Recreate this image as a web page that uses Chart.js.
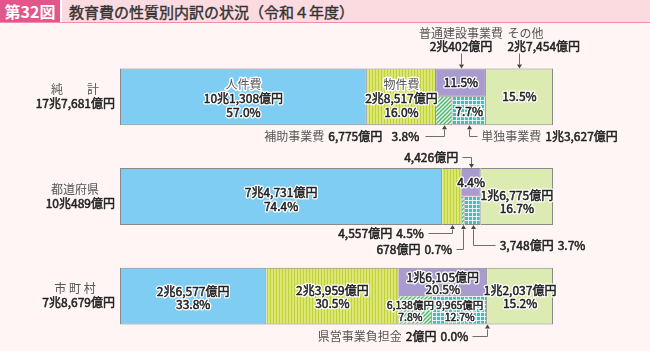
<!DOCTYPE html>
<html lang="ja">
<head>
<meta charset="utf-8">
<script src="https://cdn.jsdelivr.net/npm/chart.js@4.4.1/dist/chart.umd.min.js"></script>
<style>
  body { margin: 0; background: #fff5f5; font-family: "Noto Sans CJK JP", sans-serif; }
  #wrap { position: relative; width: 650px; height: 351px; overflow: hidden; }
  #title { position: absolute; left: 0; top: 0; width: 650px; height: 22px; background: #fbdbe0;
           border-bottom: 1px solid #ef8fac; display: flex; align-items: center; z-index: 2; }
  #title .num { background: #e4558b; color: #fff; font-weight: bold; font-size: 16px; width: 60px;
                height: 22px; line-height: 22px; text-align: center; margin-right: 7px; border-right: 2px solid #fff; }
  #title .text { font-size: 15px; color: #333; -webkit-text-stroke: 0.4px #333; }
  canvas { position: absolute; left: 0; top: 0; }
</style>
</head>
<body>
<div id="wrap">
  <div id="title"><span class="num">第32図</span><span class="text">教育費の性質別内訳の状況（令和４年度）</span></div>
  <canvas id="costChart" width="650" height="351"></canvas>
</div>
<script>
// rows (純計 / 都道府県 / 市町村)
const rowNames = ['純　　計', '都道府県', '市 町 村'];
const rowTotals = ['17兆7,681億円', '10兆489億円', '7兆8,679億円'];

// shares in %, amounts as printed
const personnelPct = [57.0, 74.4, 33.8];
const personnelAmt = ['10兆1,308億円', '7兆4,731億円', '2兆6,577億円'];
const goodsPct = [16.0, 4.5, 30.5];
const goodsAmt = ['2兆8,517億円', '4,557億円', '2兆3,959億円'];
const constructionPct = [11.5, 4.4, 20.5];
const constructionAmt = ['2兆402億円', '4,426億円', '1兆6,105億円'];
const subsidizedPct = [3.8, 0.7, 7.8];
const subsidizedAmt = ['6,775億円', '678億円', '6,138億円'];
const independentPct = [7.7, 3.7, 12.7];
const independentAmt = ['1兆3,627億円', '3,748億円', '9,965億円'];
const prefProjectPct = [null, null, 0.0];
const prefProjectAmt = [null, null, '2億円'];
const otherPct = [15.5, 16.7, 15.2];
const otherAmt = ['2兆7,454億円', '1兆6,775億円', '1兆2,037億円'];

const FONT = '"Noto Sans CJK JP", "Noto Sans", sans-serif';
const MUTED = '#555';
const DARK = '#222';
const LINE = '#6e6e6e';

// floating bar ranges built from the shares
const afterGoods = personnelPct.map((p, i) => p + goodsPct[i]);
const afterConstruction = afterGoods.map((v, i) => v + constructionPct[i]);

const personnelBars = personnelPct.map(p => [0, p]);
const goodsBars = goodsPct.map((g, i) => [personnelPct[i], afterGoods[i]]);
const constructionBars = constructionPct.map((c, i) => [afterGoods[i], afterConstruction[i]]);
const subsidizedBars = subsidizedPct.map((s, i) => [afterGoods[i], afterGoods[i] + s]);
const independentBars = independentPct.map((v, i) => [afterGoods[i] + subsidizedPct[i], afterGoods[i] + subsidizedPct[i] + v]);
const prefBars = prefProjectPct.map((v, i) => v === null ? null : [afterConstruction[i], afterConstruction[i] + v]);
const otherBars = otherPct.map((o, i) => [afterConstruction[i], afterConstruction[i] + o]);

function makePattern(size, paint) {
    const c = document.createElement('canvas');
    c.width = size;
    c.height = size;
    const g = c.getContext('2d');
    paint(g, size);
    return g.createPattern(c, 'repeat');
}

const stripePattern = makePattern(3, (g, s) => {
    g.fillStyle = '#dbe673';
    g.fillRect(0, 0, s, s);
    g.fillStyle = '#bfd23c';
    g.fillRect(0, 0, 1, s);
});

const hatchPattern = makePattern(4, (g, s) => {
    g.fillStyle = '#e6f4e2';
    g.fillRect(0, 0, s, s);
    g.strokeStyle = '#4db574';
    g.lineWidth = 1.3;
    g.beginPath();
    g.moveTo(-1, s + 1); g.lineTo(s + 1, -1);
    g.moveTo(-1, 1); g.lineTo(1, -1);
    g.moveTo(s - 1, s + 1); g.lineTo(s + 1, s - 1);
    g.stroke();
});

const checkPattern = makePattern(4, (g, s) => {
    g.fillStyle = '#46beb8';
    g.fillRect(0, 0, s, s);
    g.fillStyle = 'rgba(255,255,255,0.8)';
    g.fillRect(0, 0, s, 1);
    g.fillRect(0, 0, 1, s);
});

const edge = (left, top, bottom) => ({ left: left, top: top, bottom: bottom, right: 1 });

function fullBar(label, data, color, border) {
    return { label, data, backgroundColor: color, borderColor: '#8a8a8a', borderWidth: border,
             borderSkipped: false, grouped: false };
}
function halfBar(label, data, color, stack, border) {
    return { label, data, backgroundColor: color, borderColor: '#8a8a8a', borderWidth: border,
             borderSkipped: false, stack };
}

// dark text gets a hairline stroke so it reads a bit heavier, like the print
function write(ctx, text, x, y, color) {
    ctx.fillStyle = color;
    ctx.fillText(text, x, y);
    if (color === DARK) {
        ctx.lineWidth = 0.5;
        ctx.strokeStyle = color;
        ctx.strokeText(text, x, y);
    }
}

function halo(ctx, text, x, y, color) {
    ctx.lineWidth = 3;
    ctx.lineJoin = 'round';
    ctx.strokeStyle = '#fff';
    ctx.strokeText(text, x, y);
    write(ctx, text, x, y, color);
}

function geom(chart, ds, row) {
    const el = chart.getDatasetMeta(ds).data[row];
    const p = el.getProps(['x', 'base', 'y', 'height'], true);
    return { cx: (p.x + p.base) / 2, cy: p.y, top: p.y - p.height / 2, bottom: p.y + p.height / 2 };
}

// text inside segments: [dataset, row, lines, offsets, size, dx]
const inside = [
    [0, 0, [['人件費', MUTED], [personnelAmt[0], DARK], [personnelPct[0].toFixed(1) + '%', DARK]], [-12, 2, 15.5]],
    [1, 0, [['物件費', MUTED], [goodsAmt[0], DARK], [goodsPct[0].toFixed(1) + '%', DARK]], [-12, 2, 15.5]],
    [2, 0, [[constructionPct[0].toFixed(1) + '%', DARK]], [0]],
    [4, 0, [[independentPct[0].toFixed(1) + '%', DARK]], [0]],
    [6, 0, [[otherPct[0].toFixed(1) + '%', DARK]], [0]],
    [0, 1, [[personnelAmt[1], DARK], [personnelPct[1].toFixed(1) + '%', DARK]], [-4, 10]],
    [2, 1, [[constructionPct[1].toFixed(1) + '%', DARK]], [0]],
    [6, 1, [[otherAmt[1], DARK], [otherPct[1].toFixed(1) + '%', DARK]], [-1, 12]],
    [0, 2, [[personnelAmt[2], DARK], [personnelPct[2].toFixed(1) + '%', DARK]], [-5, 8]],
    [1, 2, [[goodsAmt[2], DARK], [goodsPct[2].toFixed(1) + '%', DARK]], [-6, 7]],
    [2, 2, [[constructionAmt[2], DARK], [constructionPct[2].toFixed(1) + '%', DARK]], [-5, 7]],
    [3, 2, [[subsidizedAmt[2], DARK], [subsidizedPct[2].toFixed(1) + '%', DARK]], [-5, 7], 10.5, -5],
    [4, 2, [[independentAmt[2], DARK], [independentPct[2].toFixed(1) + '%', DARK]], [-5, 7], 10.5],
    [6, 2, [[otherAmt[2], DARK], [otherPct[2].toFixed(1) + '%', DARK]], [-6, 7]]
];

// draws pieces as one run, anchored at its right or left end
function runText(ctx, parts, x, y, align) {
    ctx.textBaseline = 'middle';
    ctx.textAlign = 'left';
    const widths = parts.map(p => ctx.measureText(p[0]).width);
    const gap = 4;
    const total = widths.reduce((a, b) => a + b, 0) + gap * (parts.length - 1);
    let px = align === 'right' ? x - total : x;
    parts.forEach((p, i) => {
        write(ctx, p[0], px, y, p[1]);
        px += widths[i] + gap;
    });
}

function arrow(ctx, x, tip, dir) {
    ctx.beginPath();
    ctx.moveTo(x, tip);
    ctx.lineTo(x - 2.5, tip + 4 * dir);
    ctx.lineTo(x + 2.5, tip + 4 * dir);
    ctx.closePath();
    ctx.fillStyle = '#444';
    ctx.fill();
}

function path(ctx, pts) {
    ctx.beginPath();
    pts.forEach((p, i) => {
        const px = Math.round(p[0]) + 0.5;
        const py = Math.round(p[1]) + 0.5;
        if (i === 0) ctx.moveTo(px, py); else ctx.lineTo(px, py);
    });
    ctx.strokeStyle = LINE;
    ctx.lineWidth = 1;
    ctx.stroke();
}

const labelPlugin = {
    id: 'labels',
    afterDatasetsDraw(chart) {
        const ctx = chart.ctx;
        ctx.save();

        // labels inside bars
        inside.forEach(([ds, row, lines, offs, size, dx]) => {
            const g = geom(chart, ds, row);
            ctx.font = `${size || 12}px ${FONT}`;
            ctx.textAlign = 'center';
            ctx.textBaseline = 'middle';
            lines.forEach((l, k) => halo(ctx, l[0], g.cx + (dx || 0), g.cy + offs[k], l[1]));
        });

        ctx.font = `12px ${FONT}`;

        // row titles on the left
        const yScale = chart.scales.y;
        rowNames.forEach((name, i) => {
            const y = yScale.getPixelForValue(i);
            ctx.textBaseline = 'middle';
            ctx.textAlign = 'center';
            write(ctx, name, 75, y - 7.5, MUTED);
            ctx.textAlign = 'right';
            write(ctx, rowTotals[i], 115, y + 6.5, DARK);
        });

        // 純計: 普通建設事業費 and その他 above
        let g = geom(chart, 2, 0);
        ctx.textAlign = 'center';
        write(ctx, '普通建設事業費', g.cx, 33, MUTED);
        write(ctx, constructionAmt[0], g.cx, 46, DARK);
        path(ctx, [[g.cx, 53], [g.cx, g.top - 4]]);
        arrow(ctx, Math.round(g.cx) + 0.5, g.top, -1);

        g = geom(chart, 6, 0);
        ctx.textAlign = 'left';
        write(ctx, 'その他', g.cx - 12, 33, MUTED);
        write(ctx, otherAmt[0], g.cx - 12, 46, DARK);
        path(ctx, [[g.cx, 53], [g.cx, g.top - 4]]);
        arrow(ctx, Math.round(g.cx) + 0.5, g.top, -1);

        // 純計: 補助 / 単独 below
        g = geom(chart, 3, 0);
        runText(ctx, [['補助事業費', MUTED], [subsidizedAmt[0], DARK], ['  ' + subsidizedPct[0].toFixed(1) + '%', DARK]], g.cx - 25, 136, 'right');
        path(ctx, [[g.cx - 19, 136], [g.cx, 136], [g.cx, g.bottom + 4]]);
        arrow(ctx, Math.round(g.cx) + 0.5, g.bottom, 1);

        g = geom(chart, 4, 0);
        path(ctx, [[g.cx, g.bottom + 4], [g.cx, 136], [g.cx + 8, 136]]);
        arrow(ctx, Math.round(g.cx) + 0.5, g.bottom, 1);
        runText(ctx, [['単独事業費', MUTED], [independentAmt[0], DARK]], g.cx + 12, 136, 'left');

        // 都道府県
        g = geom(chart, 2, 1);
        runText(ctx, [[constructionAmt[1], DARK]], g.cx - 13, 157, 'right');
        path(ctx, [[g.cx - 9, 157], [g.cx, 157], [g.cx, g.top - 4]]);
        arrow(ctx, Math.round(g.cx) + 0.5, g.top, -1);

        g = geom(chart, 1, 1);
        runText(ctx, [[goodsAmt[1], DARK], [goodsPct[1].toFixed(1) + '%', DARK]], g.cx - 28, 233, 'right');
        path(ctx, [[g.cx - 24, 233], [g.cx, 233], [g.cx, g.bottom + 4]]);
        arrow(ctx, Math.round(g.cx) + 0.5, g.bottom, 1);

        g = geom(chart, 3, 1);
        runText(ctx, [[subsidizedAmt[1], DARK], [subsidizedPct[1].toFixed(1) + '%', DARK]], g.cx - 11, 249, 'right');
        path(ctx, [[g.cx - 7, 249], [g.cx, 249], [g.cx, g.bottom + 4]]);
        arrow(ctx, Math.round(g.cx) + 0.5, g.bottom, 1);

        g = geom(chart, 4, 1);
        path(ctx, [[g.cx, g.bottom + 4], [g.cx, 245], [g.cx + 22, 245]]);
        arrow(ctx, Math.round(g.cx) + 0.5, g.bottom, 1);
        runText(ctx, [[independentAmt[1], DARK], [independentPct[1].toFixed(1) + '%', DARK]], g.cx + 27, 245, 'left');

        // 市町村: 県営事業負担金
        g = geom(chart, 5, 2);
        runText(ctx, [['県営事業負担金', MUTED], [prefProjectAmt[2], DARK], [prefProjectPct[2].toFixed(1) + '%', DARK]], g.cx - 19, 336, 'right');
        path(ctx, [[g.cx - 15, 336], [g.cx, 336], [g.cx, g.bottom + 4]]);
        arrow(ctx, Math.round(g.cx) + 0.5, g.bottom, 1);

        ctx.restore();
    }
};

const costChart = new Chart(document.getElementById('costChart'), {
    type: 'bar',
    data: {
        labels: rowNames,
        datasets: [
            fullBar('人件費', personnelBars, '#80cdf3', edge(1, 1, 1)),
            fullBar('物件費', goodsBars, stripePattern, edge(0, 1, 1)),
            halfBar('普通建設事業費', constructionBars, '#a99bcf', 'top', edge(0, 1, 1)),
            halfBar('補助事業費', subsidizedBars, hatchPattern, 'bottom', edge(0, 0, 1)),
            halfBar('単独事業費', independentBars, checkPattern, 'bottom', edge(0, 0, 1)),
            halfBar('県営事業負担金', prefBars, '#46beb8', 'bottom', 0),
            fullBar('その他', otherBars, '#dcebb1', edge(0, 1, 1))
        ]
    },
    options: {
        indexAxis: 'y',
        responsive: false,
        animation: false,
        layout: { padding: { left: 120, right: 97, top: 47, bottom: 5 } },
        datasets: { bar: { categoryPercentage: 0.57, barPercentage: 1 } },
        scales: {
            x: { min: 0, max: 100, stacked: false, display: false },
            y: { display: false }
        },
        plugins: {
            legend: { display: false },
            tooltip: { enabled: false }
        }
    },
    plugins: [labelPlugin]
});
</script>
</body>
</html>
